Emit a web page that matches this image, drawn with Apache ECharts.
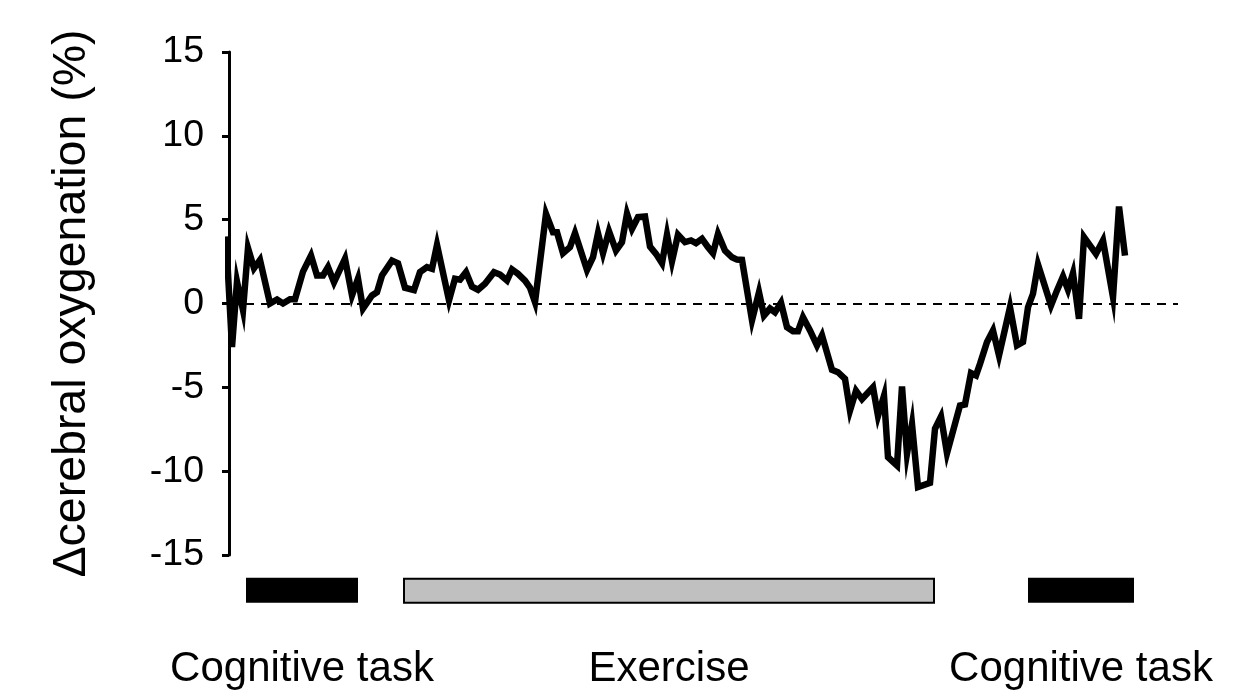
<!DOCTYPE html>
<html>
<head>
<meta charset="utf-8">
<title>Cerebral oxygenation during cognitive task and exercise</title>
<script src="https://cdn.jsdelivr.net/npm/echarts@6/dist/echarts.min.js"></script>
<style>
  html, body { margin: 0; padding: 0; background: #ffffff; }
  #chart { width: 1236px; height: 699px; }
</style>
</head>
<body>
<div id="chart"></div>
<script>
// Recording time (arbitrary sample units) and change in cerebral oxygenation (%)
const sampleTime = [
  0, 6, 11, 17, 22, 28, 34, 44, 51, 57, 64, 69, 77, 85, 91, 97, 102, 108, 119, 126,
  132, 137, 146, 151, 156, 166, 172, 179, 188, 194, 201, 206, 211, 223, 229, 234, 240, 246, 252, 259,
  268, 274, 281, 286, 292, 299, 304, 309, 320, 327, 331, 337, 344, 349, 361, 367, 372, 377, 383, 390,
  396, 401, 406, 412, 419, 424, 430, 436, 441, 446, 452, 459, 465, 470, 476, 482, 487, 492, 499, 506,
  511, 516, 526, 533, 538, 544, 549, 555, 561, 567, 572, 577, 584, 591, 596, 606, 612, 619, 624, 630,
  636, 647, 652, 658, 662, 671, 676, 681, 686, 692, 704, 709, 715, 721, 734, 739, 745, 750, 754, 761,
  767, 773, 784, 791, 797, 802, 807, 812, 825, 831, 837, 842, 847, 853, 858, 870, 877, 887, 893, 899
];
const oxygenation = [
  4.0, -2.6, 1.3, -0.4, 3.3, 2.1, 2.6, 0.0, 0.24, 0.0, 0.26, 0.26, 1.9, 2.86, 1.67, 1.67, 2.17, 1.27, 2.67, 0.48,
  1.48, -0.3, 0.48, 0.68, 1.67, 2.56, 2.4, 0.94, 0.8, 1.87, 2.17, 2.07, 3.5, 0.18, 1.48, 1.42, 1.87, 1.0, 0.82, 1.18,
  1.87, 1.73, 1.37, 2.03, 1.77, 1.37, 0.94, 0.08, 5.35, 4.25, 4.25, 3.0, 3.36, 4.2, 2.0, 2.76, 4.19, 3.0, 4.31, 3.16,
  3.66, 5.35, 4.45, 5.15, 5.19, 3.4, 2.96, 2.4, 4.1, 2.52, 4.1, 3.66, 3.76, 3.6, 3.86, 3.36, 3.0, 4.15, 3.16, 2.76,
  2.62, 2.6, -1.0, 0.68, -0.72, -0.3, -0.52, 0.05, -1.41, -1.65, -1.65, -0.82, -1.61, -2.5, -1.9, -3.96, -4.1, -4.49, -6.38, -5.2,
  -5.7, -5.0, -6.7, -5.5, -9.17, -9.66, -4.95, -8.96, -7.2, -10.95, -10.7, -7.47, -6.74, -8.93, -6.08, -6.02, -4.15, -4.29, -3.6, -2.3,
  -1.61, -3.1, -0.22, -2.5, -2.3, -0.22, 0.58, 2.33, -0.12, 0.78, 1.61, 0.82, 1.81, -0.91, 3.96, 2.96, 3.76, 0.38, 5.78, 2.86
];

// Protocol phases drawn as bars under the trace
const phaseNames = ['Cognitive task', 'Exercise', 'Cognitive task'];
const phaseStart = [20, 177, 802];
const phaseEnd = [132, 709, 908];
const phaseIsExercise = [0, 1, 0];

// Y axis range and tick step
const yMin = -15;
const yMax = 15;
const yStep = 5;

const FONT = '"Liberation Sans", Arial, Helvetica, sans-serif';

const tracePoints = sampleTime.map((t, i) => [t, oxygenation[i]]);
const phaseData = phaseNames.map((name, i) => [phaseStart[i], phaseEnd[i], phaseIsExercise[i], name]);

const chart = echarts.init(document.getElementById('chart'), null, { renderer: 'canvas' });

chart.setOption({
  animation: false,
  backgroundColor: '#ffffff',
  grid: { left: 229, right: 58, top: 52, bottom: 144, containLabel: false },
  xAxis: {
    type: 'value',
    min: 3,
    max: 952,
    show: false
  },
  yAxis: {
    type: 'value',
    min: yMin,
    max: yMax,
    interval: yStep,
    name: 'Δcerebral oxygenation (%)',
    nameLocation: 'middle',
    nameRotate: 90,
    nameGap: 133,
    nameTextStyle: { fontSize: 46.5, fontFamily: FONT, color: '#000000' },
    axisLine: { show: true, lineStyle: { color: '#000000', width: 3 } },
    axisTick: { show: true, inside: false, length: 7, lineStyle: { color: '#000000', width: 3 } },
    axisLabel: { fontSize: 37.5, fontFamily: FONT, color: '#000000', margin: 25 },
    splitLine: { show: false }
  },
  series: [
    {
      name: 'Δcerebral oxygenation',
      type: 'line',
      data: tracePoints,
      showSymbol: false,
      symbol: 'none',
      clip: false,
      lineStyle: { color: '#000000', width: 6.5, join: 'miter' },
      z: 3,
      markLine: {
        silent: true,
        symbol: ['none', 'none'],
        label: { show: false },
        lineStyle: { color: '#000000', width: 2, type: [9, 7] },
        data: [{ yAxis: 0 }]
      }
    },
    {
      name: 'phases',
      type: 'custom',
      coordinateSystem: 'cartesian2d',
      clip: false,
      silent: true,
      data: phaseData,
      encode: { x: [0, 1] },
      renderItem: function (params, api) {
        const start = api.value(0);
        const end = api.value(1);
        const exercise = api.value(2) === 1;
        const name = phaseNames[params.dataIndex];
        const topLeft = api.coord([start, -16.35]);
        const bottomRight = api.coord([end, -17.85]);
        const w = bottomRight[0] - topLeft[0];
        const h = bottomRight[1] - topLeft[1];
        const cx = (topLeft[0] + bottomRight[0]) / 2;
        return {
          type: 'group',
          children: [
            {
              type: 'rect',
              shape: exercise
                ? { x: topLeft[0] + 1, y: topLeft[1] + 1, width: w - 2, height: h - 1 }
                : { x: topLeft[0], y: topLeft[1], width: w, height: h },
              style: exercise
                ? { fill: '#c0c0c0', stroke: '#000000', lineWidth: 2 }
                : { fill: '#000000' }
            },
            {
              type: 'text',
              style: {
                x: cx,
                y: bottomRight[1] + 67,
                text: name,
                align: 'center',
                verticalAlign: 'middle',
                fontSize: 42,
                fontFamily: FONT,
                fill: '#000000'
              }
            }
          ]
        };
      }
    }
  ]
});
</script>
</body>
</html>
